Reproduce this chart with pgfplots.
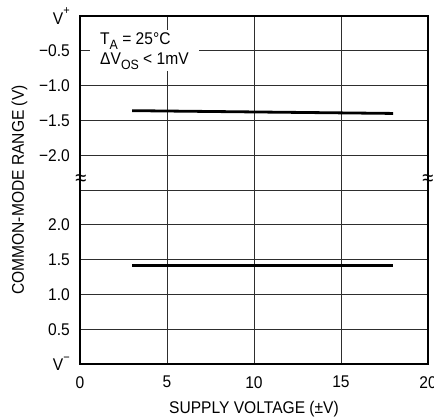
\documentclass[border=0pt]{standalone}
\usepackage{fontspec}
\setmainfont[FakeStretch=0.92]{Liberation Sans}
\usepackage{pgfplots}
\pgfplotsset{compat=1.18}
\newcommand{\chartfont}{\fontsize{17}{20}\selectfont}
\newcommand{\supsign}[1]{\raisebox{0.55em}{\fontsize{12}{12}\selectfont #1}}
\begin{document}
\chartfont
\begin{tikzpicture}
\path[use as bounding box] (-80bp,-56bp) rectangle (354bp,364bp);
\begin{axis}[
  at={(0,0)}, anchor=south west,
  scale only axis, width=348bp, height=348bp,
  xmin=0, xmax=20, ymin=0, ymax=10,
  clip=false,
  xtick={0,5,10,15,20}, xticklabels={0,5,10,15,20},
  ytick={0,1,2,3,4,5,6,7,8,9,10},
  yticklabels={V\supsign{−},0.5,1.0,1.5,2.0,,−2.0,−1.5,−1.0,−0.5,V\supsign{+}},
  major tick length=0pt,
  grid=major, grid style={black!82, line width=0.9bp},
  axis line style={line width=1.3bp},
  tick label style={font=\chartfont, inner sep=0pt},
  yticklabel style={anchor=east, xshift=-10bp},
  xticklabel style={anchor=north, yshift=-12bp},
  label style={font=\chartfont},
  xlabel={SUPPLY VOLTAGE (±V)},
  ylabel={COMMON-MODE RANGE (V)},
  every axis x label/.style={at={(axis description cs:0.5,0)}, anchor=center, yshift=-45bp},
  every axis y label/.style={at={(axis description cs:0,0.5)}, anchor=center, rotate=90, yshift=60.5bp},
]
% upper segment: referred to V+ (value in V), lower: referred to V-
\addplot[black, line width=2.8bp, y filter/.expression={10+2*y}] coordinates {(3,-1.36) (18,-1.40)};
\addplot[black, line width=2.8bp, y filter/.expression={2*y}] coordinates {(3,1.42) (18,1.42)};

\node[anchor=west, fill=white, align=left, inner xsep=10bp, inner ysep=2bp, font=\chartfont]
  at (axis cs:0.575,9) {T\raisebox{-0.3em}{\fontsize{13.5}{14}\selectfont A} = 25°C\\
  ΔV\raisebox{-0.3em}{\fontsize{13.5}{14}\selectfont OS} < 1mV};
\node[inner sep=0pt, font=\fontsize{22}{22}\selectfont] at (axis cs:0.05,5.29) {≈};
\node[inner sep=0pt, font=\fontsize{22}{22}\selectfont] at (axis cs:20,5.29) {≈};
\end{axis}
\end{tikzpicture}
\end{document}
